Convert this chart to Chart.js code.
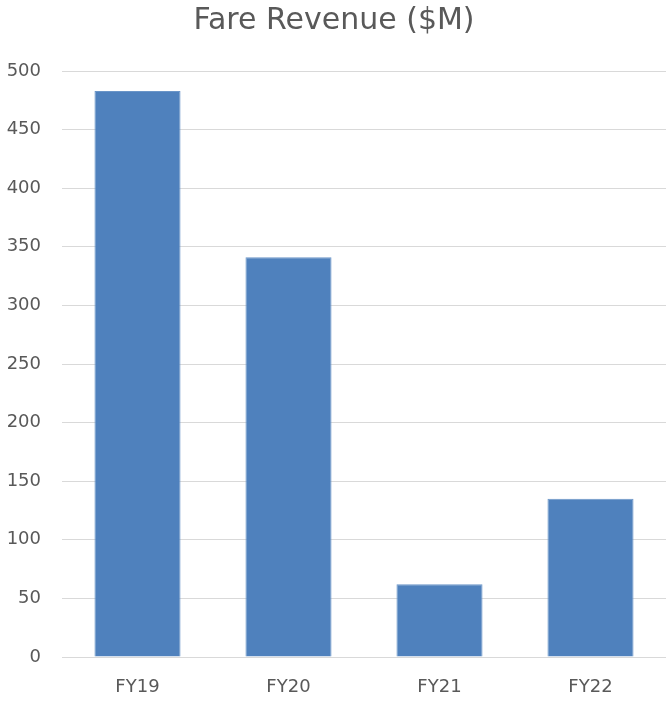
<!DOCTYPE html>
<html>
    <head>
        <title>Fare Revenue</title>
        <style>
            html, body { margin: 0; padding: 0; background: #ffffff; }
            #wrap { width: 666px; height: 703px; }
        </style>
    </head>
    <body>
        <div id="wrap">
            <canvas id="fare" width="666" height="703"></canvas>
        </div>
    </body>

    <script src="https://cdn.jsdelivr.net/npm/chart.js@4.4.0/dist/chart.umd.min.js"></script>

    <script>
        const years = ['FY19', 'FY20', 'FY21', 'FY22'];
        const fareRevenue = [483, 341, 62, 135];
        const yTicks = [0, 50, 100, 150, 200, 250, 300, 350, 400, 450, 500];

        const textGrey = '#595959';
        const fontName = 'DejaVu Sans';

        const context = document.getElementById('fare').getContext('2d');

        const fare = new Chart(context, {
            type: 'bar',
            data: {
                labels: years,
                datasets: [{
                    label: 'Fare Revenue ($M)',
                    data: fareRevenue,
                    backgroundColor: '#4f81bd',
                    borderColor: '#6a95c8',
                    borderWidth: 1,
                    categoryPercentage: 1,
                    barPercentage: 0.57,
                }],
            },
            options: {
                responsive: false,
                animation: false,
                layout: { padding: { left: 2, right: 0, top: 0, bottom: 0 } },
                plugins: {
                    legend: { display: false },
                    tooltip: { enabled: false },
                    title: {
                        display: true,
                        text: 'Fare Revenue ($M)',
                        color: textGrey,
                        font: { family: fontName, size: 30, weight: 'normal' },
                        padding: { top: 3, bottom: 32 },
                    },
                },
                scales: {
                    x: {
                        afterFit: (scale) => { scale.height = 46; },
                        grid: { display: false, drawTicks: false },
                        border: { display: false },
                        ticks: {
                            color: textGrey,
                            font: { family: fontName, size: 18 },
                            padding: 20,
                        },
                    },
                    y: {
                        min: 0,
                        max: 500,
                        afterBuildTicks: (scale) => {
                            scale.ticks = yTicks.map(v => ({ value: v }));
                        },
                        afterFit: (scale) => { scale.width = 60; },
                        grid: { color: '#d9d9d9', lineWidth: 1, drawTicks: false },
                        border: { display: false },
                        ticks: {
                            color: textGrey,
                            font: { family: fontName, size: 18 },
                            padding: 21,
                        },
                    },
                },
            },
        });
    </script>
</html>
